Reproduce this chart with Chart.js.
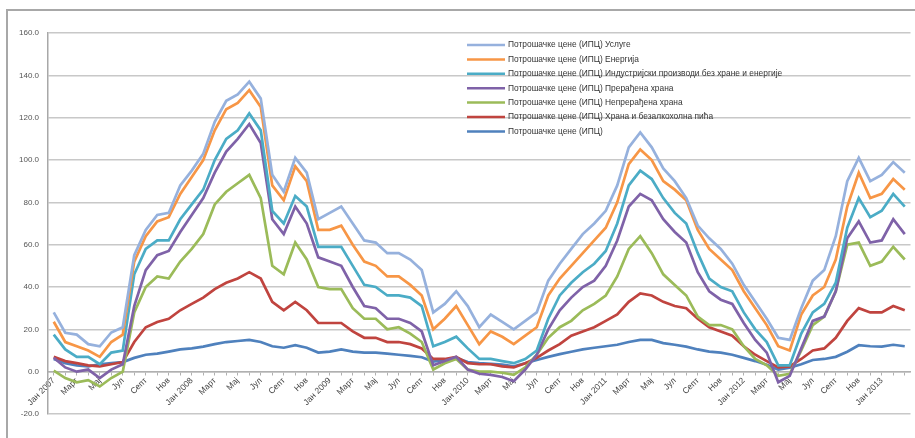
<!DOCTYPE html>
<html>
<head>
<meta charset="utf-8">
<script src="https://cdn.jsdelivr.net/npm/chart.js@4"></script>
<style>
html, body { margin: 0; padding: 0; background: #fff; overflow: hidden; }
#frame { position: absolute; left: 6px; top: 9px; width: 930px; height: 450px; border-left: 2px solid #a8a8a8; border-top: 2px solid #a8a8a8; }
#wrap { position: absolute; left: 0; top: 0; width: 915px; height: 438px; }
</style>
</head>
<body>
<div id="frame"></div>
<div id="wrap"><canvas id="myChart"></canvas></div>
<script>
// months Jan 2007 - Mar 2013
const monthNames = ['Јан', 'Феб', 'Март', 'Апр', 'Мај', 'Јун', 'Јул', 'Авг', 'Септ', 'Окт', 'Нов', 'Дец'];
const years = [2007, 2008, 2009, 2010, 2011, 2012, 2013];

const usluge = [28,18.4,17.5,13,12,18.5,21,55,67,74,75,88,95,103,118,128,131,137,129,93,85,101,94,72,75,78,70,62,61,56,56,53,48,28,32,38,31,21,27,23.5,20,24,28,43,51,58,65,70,76,88,106,113,106,96,90,82,69,63,58,51,41,33,25,16,15,30,43,48,64,90,101,90,93,99,94];
const energija = [23.6,14,12,10,7,14,17.5,52,64,71,73,84,92,100,114,124,127,133,125,88,81,97,90,67,67,69,60,52,50,45,45,41,36,20,25,31,22,13,19,16.5,13,17,21,36,44,50,56,62,68,80,98,105,100,90,86,81,67,58,53,48,38,30,22,12,10,27,36,40,53,78,94,82,84,91,86];
const industrijski = [17.5,10.5,7,7,3.5,9,10,46,58,62,62,72,79,86,100,110,114,122,114,76,70,83,78,59,59,59,50,41,40,36,36,35,31,12,14,16.5,11,6,6,5,4,6,10,25,36,42,47,51,57,70,88,95,91,82,75,70,56,44,40,38,28,20,14,3,3,18,28,32,42,68,82,73,76,84,78];
const preradjena = [6.6,2,0,1,-3,1,3.5,31,48,55,57,66,74,82,94,104,110,117,108,72,65,78,70,54,52,50,40,31,30,25,25,23,19,3,5,7,1,-1,-1.5,-2.5,-4.5,1,8,20,29,35,40,43,50,62,78,84,81,72,66,61,47,38,34,32,23,15,9,-5,-2,11,24,26,38,63,71,61,62,72,65];
const nepreradjena = [0.5,-3,-5,-4,-7,-3,0,28,40,45,44,52,58,65,79,85,89,93,82,50,46,61,53,40,39,39,30,25,25,20,21,18,14,1,4,6,1,0,0,-0.5,-1.5,2,8,16,21,24,29,32,36,45,58,64,56,46,41,36,26,22,22,20,12,6,3,-2,-1,10,22,26,38,60,61,50,52,59,53];
const hrana = [7,5,4,3,2.5,3.5,4.5,14,21,23.5,25,29,32,35,39,42,44,47,44,33,29,33,29,23,23,23,19,16,16,14,14,13,11,6,6,7,4,3.5,3.5,2.5,2,4,6.5,10,13,17,19,21,24,27,33,37,36,33,31,30,25,21,19,17,12,8,5,2,2.5,6,10,11,16,24,30,28,28,31,29];
const ipc = [6,4,3,2.5,3.5,4,4.5,6.5,8,8.5,9.5,10.5,11,11.8,13,14,14.5,15,14,12,11.3,12.5,11.3,9,9.5,10.5,9.5,9,9,8.5,8,7.5,6.8,4.8,5.5,6.5,4.5,4,3.7,3.3,2.5,4,5.5,7,8.3,9.4,10.5,11.3,12,12.7,14,15,15,13.5,12.7,11.8,10.5,9.5,9,8,6.5,5,3.3,1,1.9,3.5,5.5,6,7,9.4,12.5,12,11.8,12.7,12];

const seriesLabels = [
    'Потрошачке цене (ИПЦ) Услуге',
    'Потрошачке цене (ИПЦ) Енергија',
    'Потрошачке цене (ИПЦ) Индустријски производи без хране и енергије',
    'Потрошачке цене (ИПЦ) Прерађена храна',
    'Потрошачке цене (ИПЦ) Непрерађена храна',
    'Потрошачке цене (ИПЦ) Храна и безалкохолна пића',
    'Потрошачке цене (ИПЦ)'
];
const seriesColors = ['#96b1dd', '#f79646', '#4bacc6', '#7f62a8', '#9bbb59', '#c0443f', '#4f81bd'];

const labels = [];
years.forEach(y => {
    monthNames.forEach((m, i) => {
        labels.push(i === 0 ? m + ' ' + y : m);
    });
});
labels.length = usluge.length;

const seriesData = [usluge, energija, industrijski, preradjena, nepreradjena, hrana, ipc];

const fontFamily = '"Liberation Sans", Arial, sans-serif';

const insideLegend = {
    id: 'insideLegend',
    afterDatasetsDraw(chart) {
        const ctx = chart.ctx;
        ctx.save();
        ctx.font = '8.4px ' + fontFamily;
        ctx.textBaseline = 'middle';
        chart.data.datasets.forEach((ds, i) => {
            const y = 45 + i * 14.4;
            ctx.strokeStyle = ds.borderColor;
            ctx.lineWidth = 2.5;
            ctx.beginPath();
            ctx.moveTo(467, y);
            ctx.lineTo(505, y);
            ctx.stroke();
            ctx.fillStyle = '#333';
            ctx.fillText(ds.label, 508, y);
        });
        ctx.restore();
    }
};

const data = {
    labels: labels,
    datasets: seriesData.map((values, i) => ({
        label: seriesLabels[i],
        data: values,
        borderColor: seriesColors[i],
        backgroundColor: seriesColors[i],
        borderWidth: 2.7,
        pointRadius: 0,
        tension: 0,
        fill: false
    }))
};

const config = {
    type: 'line',
    data: data,
    plugins: [insideLegend],
    options: {
        responsive: true,
        maintainAspectRatio: false,
        animation: false,
        layout: { padding: { left: 8, top: 33, right: 4.5, bottom: 24 } },
        plugins: {
            legend: { display: false },
            tooltip: { enabled: false }
        },
        scales: {
            x: {
                type: 'category',
                offset: true,
                position: { y: 0 },
                grid: { drawOnChartArea: false, drawTicks: true, tickLength: 3, color: '#b0b0b0' },
                border: { color: '#b0b0b0', width: 1.5 },
                ticks: {
                    autoSkip: false,
                    maxRotation: 45,
                    minRotation: 45,
                    padding: 1,
                    color: '#444',
                    font: { size: 8.5, family: fontFamily },
                    callback: function (value, index) {
                        return index % 2 === 0 && index < labels.length - 1 ? this.getLabelForValue(value) : '';
                    }
                },
                afterFit: scale => { scale.height = 24; }
            },
            y: {
                min: -20,
                max: 160,
                ticks: {
                    stepSize: 20,
                    padding: 9,
                    color: '#555',
                    font: { size: 8, family: fontFamily },
                    callback: v => v.toFixed(1)
                },
                grid: { color: '#c8c8c8', lineWidth: 1.5, drawTicks: false },
                border: { color: '#a8a8a8', width: 1.5 },
                afterFit: scale => { scale.width = 40; }
            }
        }
    }
};

const myChart = new Chart(document.getElementById('myChart'), config);
</script>
</body>
</html>
